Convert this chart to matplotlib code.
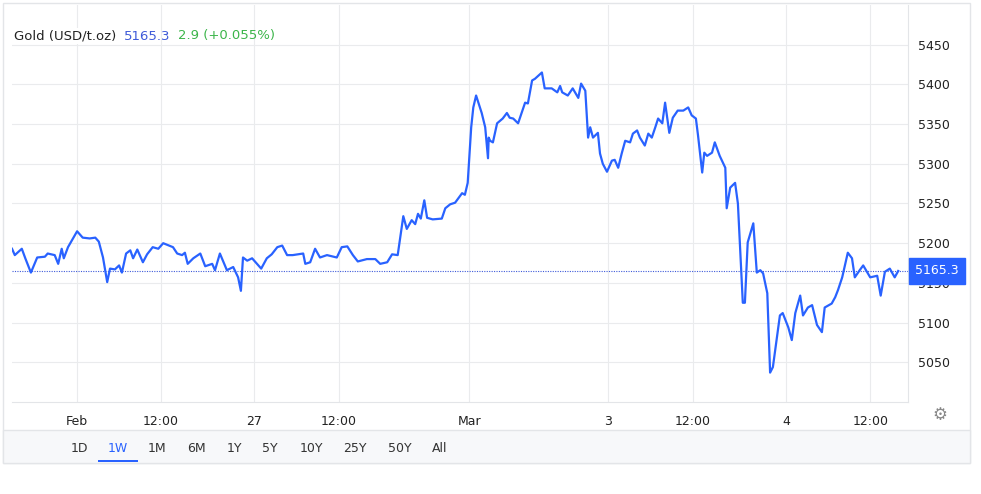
import matplotlib
matplotlib.use("Agg")
import matplotlib.pyplot as plt
from matplotlib.patches import Rectangle

hours = [0,.4,1.4,1.9,2.7,3.6,4.7,5.1,6.1,6.6,7.1,7.4,8,9.3,10.1,11.1,11.9,12.4,13,13.6,14,14.7,15.3,15.7,16.3,16.9,17.3,17.9,18.7,19.3,20.1,20.9,21.6,23,23.6,24.3,24.7,25.1,25.9,26.9,27.6,28.6,29,29.7,30.7,31.6,32.3,32.7,33,33.6,34.3,35,35.6,36.4,37.1,37.9,38.6,39.3,40.1,41.6,41.9,42.6,43.3,44,45,46.4,47.1,47.9,48.7,49.4,50.7,51.9,52.6,53.6,54.3,55.1,55.9,56.4,57.1,57.6,58,58.4,58.9,59.3,60.1,61.4,61.9,62.6,63.3,64.3,64.7,65.1,65.6,65.9,66.3,67.1,67.6,68,68.1,68.3,68.7,69.3,70.1,70.7,71.1,71.6,72.3,73.3,73.7,74.3,74.7,75.7,76.1,77.1,77.9,78.3,78.6,79.4,80.1,80.9,81.3,81.9,82.3,82.6,83,83.7,84,84.4,85,85.7,86.1,86.6,87.1,87.6,88.3,88.7,89.3,89.7,90.4,90.9,91.4,91.9,92.3,92.9,93.3,93.9,94.4,95.1,95.9,96.6,97.1,97.7,98,98.6,98.9,99.3,100,100.4,101.1,101.9,102.1,102.6,103.3,103.7,104.4,104.7,105.1,105.9,106.4,106.9,107.3,107.9,108.3,108.7,109.7,110.1,110.9,111.4,111.9,112.6,113,113.7,114.3,115,115.7,116.1,117.1,117.6,118,118.6,119.4,120,120.4,121.1,121.6,122.6,123.6,124.1,124.7,125.4,126.1,126.6]
prices = [5193,5185,5193,5181,5163,5182,5183,5187,5185,5174,5193,5181,5195,5215,5207,5206,5207,5202,5182,5151,5168,5167,5172,5163,5187,5191,5181,5192,5176,5186,5195,5193,5200,5195,5187,5185,5188,5174,5181,5187,5171,5174,5166,5187,5166,5170,5157,5140,5182,5178,5181,5174,5168,5181,5186,5195,5197,5185,5185,5187,5174,5176,5193,5182,5185,5182,5195,5196,5185,5177,5180,5180,5174,5176,5186,5185,5234,5218,5229,5224,5237,5231,5254,5232,5230,5231,5244,5249,5251,5263,5261,5276,5346,5371,5386,5364,5346,5307,5333,5329,5327,5351,5357,5364,5358,5357,5351,5377,5376,5405,5407,5415,5395,5395,5390,5398,5390,5386,5395,5383,5401,5392,5333,5346,5333,5339,5313,5300,5290,5304,5305,5295,5313,5329,5327,5338,5342,5333,5323,5338,5333,5346,5357,5351,5377,5339,5358,5367,5367,5371,5361,5357,5336,5289,5314,5310,5314,5327,5310,5295,5244,5270,5276,5250,5125,5125,5201,5225,5163,5166,5162,5137,5037,5044,5109,5112,5094,5078,5112,5134,5109,5119,5122,5097,5088,5119,5124,5132,5141,5157,5188,5181,5157,5166,5172,5157,5159,5134,5164,5168,5157,5165]
tick_hours = [9.3, 21.3, 34.6, 46.7, 65.3, 85.1, 97.3, 110.6, 122.6]
tick_labels = ["Feb", "12:00", "27", "12:00", "Mar", "3", "12:00", "4", "12:00"]
y_ticks = [5050, 5100, 5150, 5200, 5250, 5300, 5350, 5400, 5450]
last_price = 5165.3
title_name = "Gold (USD/t.oz)"
title_change = "2.9 (+0.055%)"
ranges = ["1D", "1W", "1M", "6M", "1Y", "5Y", "10Y", "25Y", "50Y", "All"]
range_x = [79, 118, 157, 196, 234, 270, 311, 355, 400, 440]

W, H = 981, 494
BLUE = "#2962ff"
fig = plt.figure(figsize=(W/100, H/100), dpi=100)
fig.patch.set_facecolor("white")

def fx(px): return px / W
def fy(py): return 1 - py / H

fig.add_artist(Rectangle((fx(3), fy(463)), fx(967), 463/H - 3/H, transform=fig.transFigure,
                         facecolor="none", edgecolor="#e3e5e8", lw=1))
fig.add_artist(Rectangle((fx(3), fy(463)), fx(967), 33/H, transform=fig.transFigure,
                         facecolor="#f7f8fa", edgecolor="#e3e5e8", lw=1))

ax = fig.add_axes([fx(12), fy(402), fx(896), 397/H])
ax.plot(hours, prices, color=BLUE, lw=1.6, zorder=3)
ax.axhline(last_price, color="#3f5bd9", lw=0.8, ls=(0, (1, 1.2)), zorder=2)
ax.set_xlim(0, 128)
ax.set_ylim(5000, 5500)
ax.set_yticks(y_ticks)
ax.set_xticks(tick_hours)
ax.set_xticklabels(tick_labels)
ax.yaxis.tick_right()
ax.tick_params(axis="y", length=0, pad=7, labelsize=9, labelcolor="#222222")
ax.tick_params(axis="x", length=0, pad=9, labelsize=9, labelcolor="#222222")
ax.grid(True, color="#eaebed", lw=0.8)
for s in ["top", "left"]:
    ax.spines[s].set_visible(False)
ax.spines["right"].set_color("#e3e5e8")
ax.spines["bottom"].set_color("#e3e5e8")

ax.annotate(f"{last_price}", xy=(1, last_price), xycoords=("axes fraction", "data"),
            xytext=(5, 0), textcoords="offset points", va="center", ha="left",
            color="white", fontsize=9,
            bbox=dict(boxstyle="square,pad=0.5", fc=BLUE, ec=BLUE))

fig.text(fx(14), fy(36), title_name, fontsize=9.5, color="#222222", va="center",
         bbox=dict(fc="white", ec="none", pad=1))
fig.text(fx(124), fy(36), f"{last_price}", fontsize=9.5, color="#3f5bd9", va="center")
fig.text(fx(178), fy(36), title_change, fontsize=9.5, color="#3cb54a", va="center")

for lab, x in zip(ranges, range_x):
    fig.text(fx(x), fy(448), lab, fontsize=9, ha="center", va="center",
             color=BLUE if lab == "1W" else "#333333")
fig.add_artist(Rectangle((fx(98), fy(462)), fx(40), 2.5/H, transform=fig.transFigure,
                         facecolor=BLUE, edgecolor="none"))
fig.text(fx(940), fy(415), "\u2699", fontsize=12, ha="center", va="center", color="#888888")

fig.savefig("out.png", dpi=100)
